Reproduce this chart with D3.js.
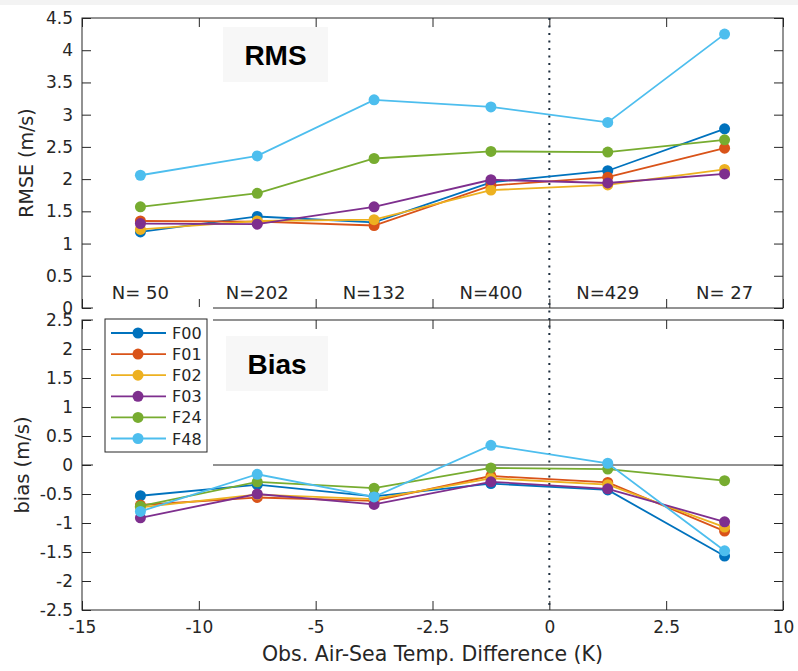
<!DOCTYPE html>
<html>
<head>
<meta charset="utf-8">
<script src="https://cdn.jsdelivr.net/npm/d3@7"></script>
<style>
  body { margin: 0; background: #fff; }
  svg { display: block; font-family: "DejaVu Sans", sans-serif; }
</style>
</head>
<body>
<div id="chart"></div>
<script>
// bins of observed air-sea temperature difference (K)
const binEdges = ['-15', '-10', '-5', '-2.5', '0', '2.5', '10'];
const binCounts = ['N= 50', 'N=202', 'N=132', 'N=400', 'N=429', 'N= 27'];
const seriesNames = ['F00', 'F01', 'F02', 'F03', 'F24', 'F48'];
const seriesColors = ['#0072BD', '#D95319', '#EDB120', '#7E2F8E', '#77AC30', '#4DBEEE'];

// RMSE (m/s)
const rmsF00 = [1.18, 1.42, 1.33, 1.95, 2.13, 2.78];
const rmsF01 = [1.35, 1.34, 1.28, 1.90, 2.03, 2.48];
const rmsF02 = [1.22, 1.35, 1.37, 1.83, 1.91, 2.15];
const rmsF03 = [1.31, 1.30, 1.57, 1.99, 1.94, 2.08];
const rmsF24 = [1.57, 1.78, 2.32, 2.43, 2.42, 2.61];
const rmsF48 = [2.06, 2.36, 3.23, 3.12, 2.88, 4.25];

// bias (m/s)
const biasF00 = [-0.53, -0.34, -0.54, -0.32, -0.43, -1.57];
const biasF01 = [-0.69, -0.56, -0.62, -0.19, -0.30, -1.14];
const biasF02 = [-0.73, -0.51, -0.59, -0.23, -0.34, -1.07];
const biasF03 = [-0.91, -0.50, -0.68, -0.29, -0.41, -0.98];
const biasF24 = [-0.71, -0.29, -0.40, -0.05, -0.07, -0.27];
const biasF48 = [-0.80, -0.16, -0.55, 0.34, 0.03, -1.48];

const rmsSeries = [rmsF00, rmsF01, rmsF02, rmsF03, rmsF24, rmsF48];
const biasSeries = [biasF00, biasF01, biasF02, biasF03, biasF24, biasF48];
const rmsTicks = d3.range(0, 4.51, 0.5);
const biasTicks = d3.range(-2.5, 2.51, 0.5);

const width = 798, height = 671;
const left = 82, right = 783;
const ink = '#262626';

const svg = d3.select('#chart').append('svg')
  .attr('width', width)
  .attr('height', height);

// faint band along the top edge
svg.append('rect').attr('x', 0).attr('y', 0).attr('width', width).attr('height', 5).attr('fill', '#f3f3f3');

const x = d3.scaleLinear().domain([0, binEdges.length - 1]).range([left, right]);
const yRms = d3.scaleLinear().domain([0, 4.5]).range([308, 18]);
const yBias = d3.scaleLinear().domain([-2.5, 2.5]).range([610, 320]);

function drawPanel(y, ticks, showXLabels) {
  const [y0, y1] = y.range();
  const g = svg.append('g');

  g.append('g')
    .attr('transform', `translate(${left},0)`)
    .call(d3.axisLeft(y).tickValues(ticks).tickSizeInner(-9).tickSizeOuter(0).tickPadding(9)
      .tickFormat(d => String(+d.toFixed(1))));
  g.append('g')
    .attr('transform', `translate(${right},0)`)
    .call(d3.axisRight(y).tickValues(ticks).tickSizeInner(-9).tickSizeOuter(0).tickFormat(''));
  g.append('g')
    .attr('transform', `translate(0,${y0})`)
    .call(d3.axisBottom(x).ticks(binEdges.length).tickSizeInner(-9).tickSizeOuter(0).tickPadding(11)
      .tickFormat(i => showXLabels ? binEdges[i] : ''));
  g.append('g')
    .attr('transform', `translate(0,${y1})`)
    .call(d3.axisTop(x).ticks(binEdges.length).tickSizeInner(-9).tickSizeOuter(0).tickFormat(''));

  g.selectAll('.domain').remove();
  g.selectAll('.tick line').attr('stroke', ink);
  g.selectAll('.tick text')
    .attr('fill', ink)
    .style('font-family', '"DejaVu Sans", sans-serif')
    .style('font-size', '17px');

  g.append('rect')
    .attr('x', left).attr('y', y1)
    .attr('width', right - left).attr('height', y0 - y1)
    .attr('fill', 'none').attr('stroke', ink).attr('stroke-width', 1);
  return g;
}

drawPanel(yRms, rmsTicks, false);
drawPanel(yBias, biasTicks, true);

// zero line in the bias panel
svg.append('line')
  .attr('x1', left).attr('x2', right)
  .attr('y1', yBias(0)).attr('y2', yBias(0))
  .attr('stroke', ink).attr('stroke-width', 1.2);

// dotted line at 0 K
svg.append('line')
  .attr('x1', x(4)).attr('x2', x(4))
  .attr('y1', yRms(4.5)).attr('y2', yBias(-2.5))
  .attr('stroke', '#1f2f3f').attr('stroke-width', 2)
  .attr('stroke-dasharray', '2,5.5');

function drawSeries(y, series) {
  series.forEach((vals, k) => {
    const line = d3.line().x((d, i) => x(i + 0.5)).y(d => y(d));
    svg.append('path')
      .datum(vals)
      .attr('d', line)
      .attr('fill', 'none')
      .attr('stroke', seriesColors[k])
      .attr('stroke-width', 1.8);
    svg.append('g').selectAll('circle')
      .data(vals)
      .join('circle')
      .attr('cx', (d, i) => x(i + 0.5))
      .attr('cy', d => y(d))
      .attr('r', 5.5)
      .attr('fill', seriesColors[k]);
  });
}

drawSeries(yRms, rmsSeries);
drawSeries(yBias, biasSeries);

// sample counts
svg.append('g').selectAll('text')
  .data(binCounts)
  .join('text')
  .attr('x', (d, i) => x(i + 0.5))
  .attr('y', 299)
  .attr('text-anchor', 'middle')
  .attr('fill', ink)
  .style('font-size', '18px')
  .text(d => d);

// panel titles
[['RMS', 223, 27, 105, 55], ['Bias', 226, 336, 102, 55]].forEach(([t, bx, by, bw, bh]) => {
  svg.append('rect').attr('x', bx).attr('y', by).attr('width', bw).attr('height', bh).attr('fill', '#f7f7f7');
  svg.append('text')
    .attr('x', bx + bw / 2).attr('y', by + bh / 2 + 10)
    .attr('text-anchor', 'middle')
    .style('font-family', '"Liberation Sans", Arial, sans-serif')
    .style('font-weight', 'bold')
    .style('font-size', '28px')
    .attr('fill', '#000')
    .text(t);
});

// white backing behind the legend
svg.append('rect').attr('x', 93).attr('y', 307).attr('width', 120).attr('height', 161).attr('fill', '#fff');

// legend
const legend = svg.append('g');
legend.append('rect')
  .attr('x', 105).attr('y', 319).attr('width', 102).attr('height', 133)
  .attr('fill', '#fff').attr('stroke', ink).attr('stroke-width', 1);
seriesNames.forEach((name, k) => {
  const ly = 333 + k * 21.1;
  legend.append('line').attr('x1', 111).attr('x2', 166).attr('y1', ly).attr('y2', ly)
    .attr('stroke', seriesColors[k]).attr('stroke-width', 1.8);
  legend.append('circle').attr('cx', 138).attr('cy', ly).attr('r', 5.5).attr('fill', seriesColors[k]);
  legend.append('text').attr('x', 172).attr('y', ly + 6)
    .attr('fill', ink).style('font-size', '16px').text(name);
});

// axis labels
svg.append('text')
  .attr('transform', `translate(33,${(yRms(0) + yRms(4.5)) / 2}) rotate(-90)`)
  .attr('text-anchor', 'middle').attr('fill', ink).style('font-size', '19px')
  .text('RMSE (m/s)');
svg.append('text')
  .attr('transform', `translate(29,${(yBias(-2.5) + yBias(2.5)) / 2}) rotate(-90)`)
  .attr('text-anchor', 'middle').attr('fill', ink).style('font-size', '19.5px')
  .text('bias (m/s)');
svg.append('text')
  .attr('x', (left + right) / 2).attr('y', 661)
  .attr('text-anchor', 'middle').attr('fill', ink).style('font-size', '20.5px')
  .text('Obs. Air-Sea Temp. Difference (K)');
</script>
</body>
</html>
